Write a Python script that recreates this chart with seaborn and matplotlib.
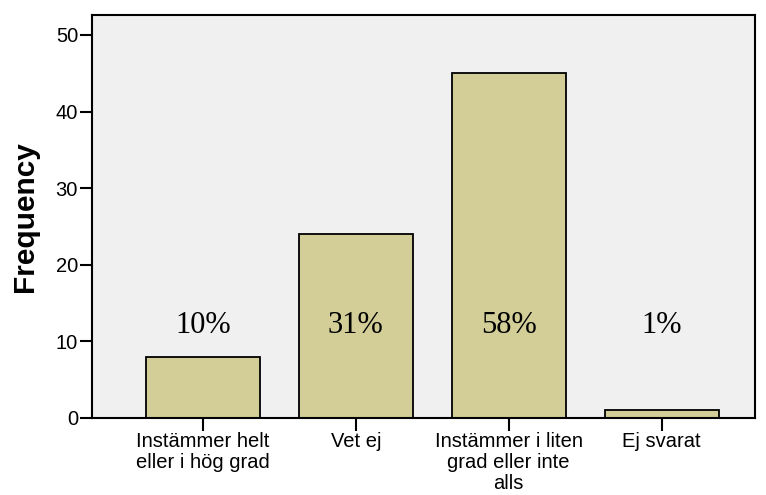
import pandas as pd
import seaborn as sns
import matplotlib.pyplot as plt

categories = ['Instämmer helt\neller i hög grad', 'Vet ej',
              'Instämmer i liten\ngrad eller inte\nalls', 'Ej svarat']
counts = [8, 24, 45, 1]
pct_labels = ['10%', '31%', '58%', '1%']
pct_y = 12.1

df = pd.DataFrame({'category': categories, 'count': counts})

sns.set_style("ticks")
plt.rcParams['font.family'] = ['Liberation Sans', 'DejaVu Sans']
plt.rcParams['text.color'] = 'black'
plt.rcParams['xtick.color'] = 'black'
plt.rcParams['ytick.color'] = 'black'
plt.rcParams['axes.labelcolor'] = 'black'

fig = plt.figure(figsize=(7.66, 4.95), dpi=100)
ax = fig.add_axes([0.120, 0.1556, 0.8656, 0.8141])
ax.set_facecolor('#F0F0F0')

sns.barplot(data=df, x='category', y='count', color='#D3CE97', saturation=1,
            edgecolor='black', linewidth=1.3, width=0.745, ax=ax)

for i, lab in enumerate(pct_labels):
    ax.text(i, pct_y, lab, ha='center', va='center', fontsize=22,
            family='Liberation Serif', color='black')

ax.set_xlim(-0.725, 3.61)
ax.set_ylim(0, 52.6)
ax.set_yticks([0, 10, 20, 30, 40, 50])
ax.set_xlabel('')
ax.set_ylabel('Frequency', fontsize=21.5, fontweight='bold', labelpad=12)
for s in ax.spines.values():
    s.set_visible(True)
    s.set_linewidth(1.5)
    s.set_color('black')
ax.tick_params(axis='both', length=9, width=1.5, color='black', labelsize=14.5, pad=1)
for t in ax.get_xticklabels():
    t.set_linespacing(1.15)

plt.savefig('out.png', dpi=100)
